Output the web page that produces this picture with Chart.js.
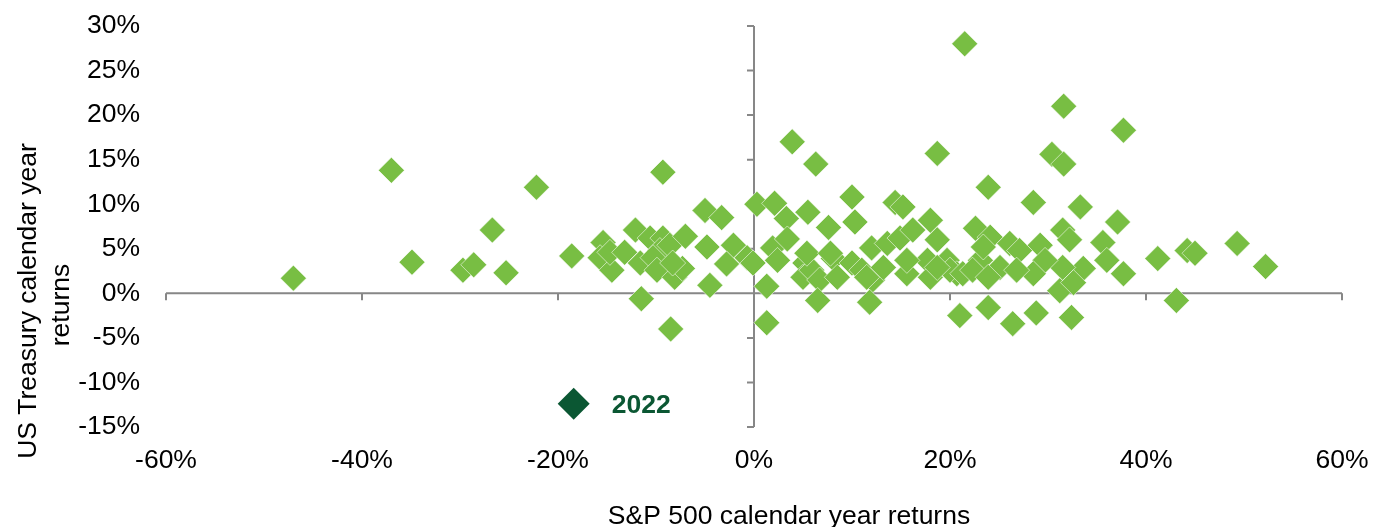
<!DOCTYPE html>
<html>
<head>
<meta charset="utf-8">
<script src="https://cdn.jsdelivr.net/npm/chart.js@4"></script>
<style>
  html, body { margin: 0; padding: 0; background: #fff; }
  #wrap { width: 1375px; height: 527px; }
</style>
</head>
<body>
<div id="wrap"><canvas id="scatter" width="1375" height="527"></canvas></div>
<script>
// S&P 500 calendar year return (%) and US Treasury calendar year return (%)
const spxReturns = [
  -47.0, -37.0, -34.9, -29.7, -28.6, -26.7, -25.3, -22.2, -18.6,
  -15.4, -15.7, -14.5, -14.7, -12.1, -13.2, -11.6, -10.6, -9.3, -9.6,
  -8.6, -10.3, -9.9, -8.1, -7.3, -8.3, -7.0, -9.3, -5.0, -3.3,
  -4.8, -2.1, -2.8, -0.7, -4.5, -11.5, -8.5,
  0.3, 2.1, 3.3, 5.5, 7.6, 10.0, 10.3, 14.4, 15.2, 3.9, 6.3,
  -0.1, 1.9, 3.4, 2.4, 1.3, 1.3, 5.2, 5.0, 5.9, 6.7, 8.1, 8.5,
  6.5, 10.0, 11.0, 12.0, 12.1, 11.8, 13.6, 13.2, 14.9, 15.6, 16.2,
  18.0, 17.7, 18.0, 5.4, 7.8, 11.5, 15.6, 19.7, 20.7,
  18.7, 21.5, 23.9, 18.7, 22.6, 24.1, 26.1, 27.1, 29.2, 31.5, 32.2,
  35.6, 36.0, 37.7, 33.6, 31.5, 29.7, 28.5, 23.1, 23.4, 25.1, 26.8,
  20.0, 18.7, 21.3, 22.3, 23.9, 31.2, 32.6, 21.0, 23.9, 26.4, 28.8,
  32.4, 28.5, 33.3, 37.1, 30.4, 31.6, 31.6, 37.7,
  41.2, 44.2, 45.0, 49.3, 52.2, 43.1
];
const tsyReturns = [
  1.7, 13.8, 3.5, 2.6, 3.2, 7.1, 2.3, 11.9, 4.2,
  5.7, 4.0, 2.6, 4.6, 7.1, 4.6, 3.4, 6.2, 6.2, 4.8,
  5.4, 4.0, 2.6, 1.8, 2.8, 3.4, 6.4, 13.6, 9.3, 8.5,
  5.2, 5.4, 3.3, 4.0, 0.9, -0.6, -4.0,
  10.0, 10.1, 8.4, 9.1, 7.4, 10.8, 8.0, 10.2, 9.7, 17.0, 14.5,
  3.4, 5.1, 6.1, 3.7, 0.8, -3.3, 3.4, 1.8, 2.6, 1.5, 3.9, 1.8,
  -0.8, 3.4, 2.6, 5.1, 1.5, -1.0, 5.6, 2.9, 6.2, 2.2, 7.1,
  8.2, 3.7, 1.8, 4.5, 4.5, 1.8, 3.7, 3.7, 2.2,
  15.7, 28.0, 11.9, 6.0, 7.3, 6.3, 5.6, 4.8, 5.4, 7.1, 6.0,
  5.7, 3.7, 2.2, 2.8, 2.9, 3.7, 2.2, 3.7, 5.2, 2.9, 2.6,
  2.6, 2.9, 2.2, 2.6, 1.8, 0.3, 1.2, -2.5, -1.6, -3.4, -2.2,
  -2.7, 10.2, 9.7, 8.0, 15.6, 14.5, 21.0, 18.3,
  3.9, 4.8, 4.5, 5.6, 3.0, -0.8
];
const highlightLabel = '2022';
const highlightSpx = [-18.4];
const highlightTsy = [-12.4];

const xTitle = 'S&P 500 calendar year returns';
const yTitle = ['US Treasury calendar year', 'returns'];

const FONT = 'Arial, "Liberation Sans", sans-serif';
const LIGHT_GREEN = '#78BE43';
const DARK_GREEN = '#0B5733';
const AXIS_GREY = '#878787';

const points = spxReturns.map((v, i) => ({ x: v, y: tsyReturns[i] }));
const highlight = highlightSpx.map((v, i) => ({ x: v, y: highlightTsy[i] }));

// axis lines crossing at zero, with their little tick marks
const crossAxes = {
  id: 'crossAxes',
  beforeDatasetsDraw(chart) {
    const { ctx, scales: { x, y } } = chart;
    const x0 = x.getPixelForValue(0);
    const y0 = y.getPixelForValue(0);
    ctx.save();
    ctx.strokeStyle = AXIS_GREY;
    ctx.lineWidth = 2;
    ctx.beginPath();
    ctx.moveTo(x.left, y0);
    ctx.lineTo(x.right, y0);
    ctx.moveTo(x0, y.top);
    ctx.lineTo(x0, y.bottom);
    x.ticks.forEach(t => {
      const px = x.getPixelForValue(t.value);
      ctx.moveTo(px, y0);
      ctx.lineTo(px, y0 + 7);
    });
    y.ticks.forEach(t => {
      const py = y.getPixelForValue(t.value);
      ctx.moveTo(x0 - 7, py);
      ctx.lineTo(x0, py);
    });
    ctx.stroke();
    ctx.restore();
  }
};

// axis titles and the 2022 label
const textBits = {
  id: 'textBits',
  afterDraw(chart) {
    const ctx = chart.ctx;
    ctx.save();
    ctx.fillStyle = '#000';
    ctx.font = '26.5px ' + FONT;
    ctx.textAlign = 'center';
    ctx.textBaseline = 'middle';
    ctx.fillText(xTitle, 789, 517);

    ctx.translate(29, 301);
    ctx.rotate(-Math.PI / 2);
    ctx.fillText(yTitle[0], 0, 0);
    ctx.fillText(yTitle[1], -4, 33);
    ctx.restore();

    const pt = chart.getDatasetMeta(1).data[0];
    ctx.save();
    ctx.fillStyle = DARK_GREEN;
    ctx.font = 'bold 26.5px ' + FONT;
    ctx.textAlign = 'left';
    ctx.textBaseline = 'middle';
    ctx.fillText(highlightLabel, pt.x + 38, pt.y + 2);
    ctx.restore();
  }
};

new Chart(document.getElementById('scatter'), {
  type: 'scatter',
  data: {
    datasets: [
      {
        label: 'Calendar years',
        data: points,
        pointStyle: 'rectRot',
        pointRadius: 13,
        backgroundColor: LIGHT_GREEN,
        borderColor: 'rgba(255,255,255,0.55)',
        borderWidth: 1,
        order: 2
      },
      {
        label: highlightLabel,
        data: highlight,
        pointStyle: 'rectRot',
        pointRadius: 16,
        backgroundColor: DARK_GREEN,
        borderColor: DARK_GREEN,
        borderWidth: 0,
        order: 1
      }
    ]
  },
  options: {
    responsive: false,
    animation: false,
    layout: { padding: { top: 26, right: 33, left: 0, bottom: 0 } },
    plugins: { legend: { display: false }, tooltip: { enabled: false } },
    scales: {
      x: {
        type: 'linear',
        min: -60, max: 60,
        grid: { display: false, drawTicks: false },
        border: { display: false },
        afterFit(s) { s.height = 100; s.paddingLeft = 0; s.paddingRight = 0; },
        ticks: {
          stepSize: 20,
          padding: 18,
          color: '#000',
          font: { family: FONT, size: 26.5 },
          callback: v => v + '%'
        }
      },
      y: {
        type: 'linear',
        min: -15, max: 30,
        grid: { display: false, drawTicks: false },
        border: { display: false },
        afterFit(s) { s.width = 166; s.paddingTop = 0; s.paddingBottom = 0; },
        ticks: {
          stepSize: 5,
          padding: 26,
          color: '#000',
          font: { family: FONT, size: 26.5 },
          callback: v => v + '%'
        }
      }
    }
  },
  plugins: [crossAxes, textBits]
});
</script>
</body>
</html>
